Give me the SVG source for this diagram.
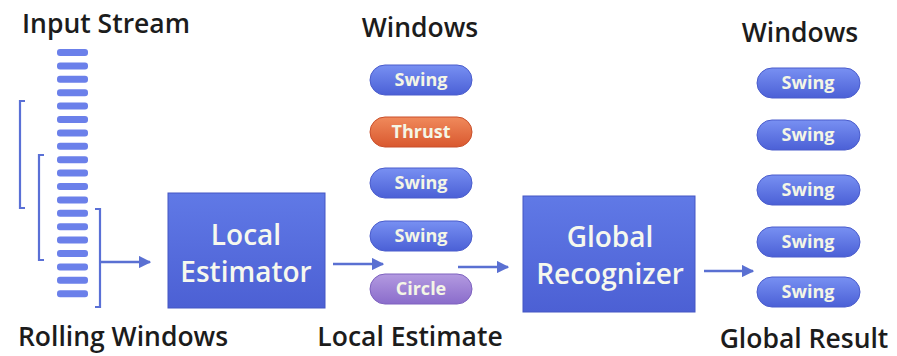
<svg xmlns="http://www.w3.org/2000/svg" width="897" height="356" viewBox="0 0 897 356">
<defs>
<linearGradient id="gBox" x1="0" y1="0" x2="0" y2="1"><stop offset="0" stop-color="#6079e6"/><stop offset="1" stop-color="#4c60d4"/></linearGradient>
<linearGradient id="gBlue" x1="0" y1="0" x2="0" y2="1"><stop offset="0" stop-color="#7890f2"/><stop offset="1" stop-color="#4b60d6"/></linearGradient>
<linearGradient id="gOrange" x1="0" y1="0" x2="0" y2="1"><stop offset="0" stop-color="#f08a5c"/><stop offset="1" stop-color="#d9582f"/></linearGradient>
<linearGradient id="gPurple" x1="0" y1="0" x2="0" y2="1"><stop offset="0" stop-color="#b39ae0"/><stop offset="1" stop-color="#8a6ccb"/></linearGradient>
<marker id="ah" viewBox="0 0 10 10" refX="9" refY="5" markerWidth="5" markerHeight="5" orient="auto" markerUnits="strokeWidth"><path d="M0,0 L10,5 L0,10 z" fill="#5a70d2"/></marker>
</defs>
<style>
.title{font-family:"Open Sans","Noto Sans",sans-serif;font-size:26.5px;font-weight:600;fill:#1c1c1c;text-anchor:middle}
.boxtxt{font-family:"Open Sans","Noto Sans",sans-serif;font-size:28px;font-weight:600;fill:#f6f8ee;text-anchor:middle}
.pilltxt{font-family:"Open Sans","Noto Sans",sans-serif;font-size:18px;font-weight:700;fill:#f4f6e6;text-anchor:middle}
.box{fill:url(#gBox);stroke:#4556c4;stroke-width:1}
.blue{fill:url(#gBlue);stroke:#4a5ccc;stroke-width:1}
.orange{fill:url(#gOrange);stroke:#c94f2a;stroke-width:1}
.purple{fill:url(#gPurple);stroke:#7e62bf;stroke-width:1}
.bar{fill:#6b80ea}
.brk{fill:none;stroke:#5a70d6;stroke-width:2.2}
.arrow{fill:none;stroke:#5a70d2;stroke-width:2.5;marker-end:url(#ah)}
</style>
<rect width="897" height="356" fill="#ffffff"/>

<g id="labels">
<text class="title" x="106" y="33">Input Stream</text>
<text class="title" x="420" y="37">Windows</text>
<text class="title" x="800" y="42">Windows</text>
<text class="title" x="123" y="346">Rolling Windows</text>
<text class="title" x="410" y="346">Local Estimate</text>
<text class="title" x="804" y="348">Global Result</text>
</g>

<g id="input-stream">
<rect class="bar" x="57" y="49" width="31" height="7" rx="3"/>
<rect class="bar" x="57" y="62.4" width="31" height="7" rx="3"/>
<rect class="bar" x="57" y="75.8" width="31" height="7" rx="3"/>
<rect class="bar" x="57" y="89.2" width="31" height="7" rx="3"/>
<rect class="bar" x="57" y="102.6" width="31" height="7" rx="3"/>
<rect class="bar" x="57" y="116" width="31" height="7" rx="3"/>
<rect class="bar" x="57" y="129.4" width="31" height="7" rx="3"/>
<rect class="bar" x="57" y="142.8" width="31" height="7" rx="3"/>
<rect class="bar" x="57" y="156.2" width="31" height="7" rx="3"/>
<rect class="bar" x="57" y="169.6" width="31" height="7" rx="3"/>
<rect class="bar" x="57" y="183" width="31" height="7" rx="3"/>
<rect class="bar" x="57" y="196.4" width="31" height="7" rx="3"/>
<rect class="bar" x="57" y="209.8" width="31" height="7" rx="3"/>
<rect class="bar" x="57" y="223.2" width="31" height="7" rx="3"/>
<rect class="bar" x="57" y="236.6" width="31" height="7" rx="3"/>
<rect class="bar" x="57" y="250" width="31" height="7" rx="3"/>
<rect class="bar" x="57" y="263.4" width="31" height="7" rx="3"/>
<rect class="bar" x="57" y="276.8" width="31" height="7" rx="3"/>
<rect class="bar" x="57" y="290.2" width="31" height="7" rx="3"/>
</g>

<g id="rolling-windows">
<path class="brk" d="M25,101 L20,101 L20,208 L25,208"/>
<path class="brk" d="M44,155 L39,155 L39,260 L44,260"/>
<path class="brk" d="M95,209 L100,209 L100,307 L95,307"/>
</g>

<g id="local-estimator">
<rect class="box" x="168" y="193" width="157" height="115"/>
<text class="boxtxt" x="246" y="245">Local</text>
<text class="boxtxt" x="246" y="282">Estimator</text>
</g>

<g id="local-windows">
<rect class="blue" x="370" y="65" width="102" height="30" rx="15"/>
<text class="pilltxt" x="421" y="86">Swing</text>
<rect class="orange" x="370" y="117" width="102" height="30" rx="15"/>
<text class="pilltxt" x="421" y="138">Thrust</text>
<rect class="blue" x="370" y="168" width="102" height="30" rx="15"/>
<text class="pilltxt" x="421" y="189">Swing</text>
<rect class="blue" x="370" y="221" width="102" height="30" rx="15"/>
<text class="pilltxt" x="421" y="242">Swing</text>
<rect class="purple" x="370" y="274" width="102" height="30" rx="15"/>
<text class="pilltxt" x="421" y="295">Circle</text>
</g>

<g id="global-recognizer">
<rect class="box" x="523" y="196" width="172" height="116"/>
<text class="boxtxt" x="610" y="247">Global</text>
<text class="boxtxt" x="610" y="284">Recognizer</text>
</g>

<g id="global-windows">
<rect class="blue" x="757" y="68" width="103" height="30" rx="15"/>
<text class="pilltxt" x="808" y="89">Swing</text>
<rect class="blue" x="757" y="120" width="103" height="30" rx="15"/>
<text class="pilltxt" x="808" y="141">Swing</text>
<rect class="blue" x="757" y="175" width="103" height="30" rx="15"/>
<text class="pilltxt" x="808" y="196">Swing</text>
<rect class="blue" x="757" y="227" width="103" height="30" rx="15"/>
<text class="pilltxt" x="808" y="248">Swing</text>
<rect class="blue" x="757" y="277" width="103" height="30" rx="15"/>
<text class="pilltxt" x="808" y="298">Swing</text>
</g>

<g id="connectors">
<line class="arrow" x1="101" y1="262" x2="150" y2="262"/>
<line class="arrow" x1="333" y1="264" x2="383" y2="264"/>
<line class="arrow" x1="458" y1="267" x2="508" y2="267"/>
<line class="arrow" x1="704" y1="271" x2="753" y2="271"/>
</g>
</svg>
